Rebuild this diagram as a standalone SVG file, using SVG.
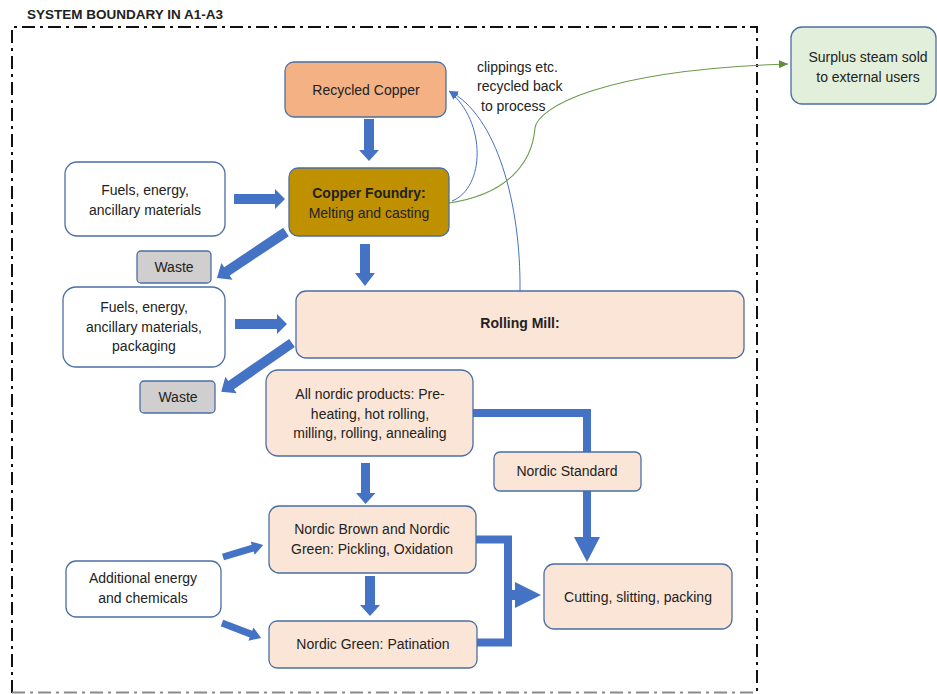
<svg xmlns="http://www.w3.org/2000/svg" width="937" height="694" viewBox="0 0 937 694">
<defs>
<style>
text{font-family:"Liberation Sans",Arial,sans-serif;font-size:14px;fill:#222;text-anchor:middle}
.b{font-weight:bold}
.box{stroke:#4A6FA5;stroke-width:1.3}
.peach{fill:#FBE5D6}
.white{fill:#FFFFFF}
.gray{fill:#D0CECE}
.blk{fill:#4472C4}
.thick{fill:none;stroke:#4472C4;stroke-width:8;stroke-linejoin:miter}
.thin{fill:none;stroke:#4472C4;stroke-width:1}
.bd{fill:none;stroke:#111;stroke-width:2;stroke-dasharray:13 5 3 5}
</style>
<marker id="mb" markerUnits="userSpaceOnUse" markerWidth="10" markerHeight="8" refX="9" refY="4" orient="auto">
<path d="M0,0 L9,4 L0,8 Z" fill="#4472C4"/>
</marker>
<marker id="mg" markerUnits="userSpaceOnUse" markerWidth="10" markerHeight="8" refX="9" refY="4" orient="auto">
<path d="M0,0 L9,4 L0,8 Z" fill="#5E8F3E"/>
</marker>
</defs>
<rect width="937" height="694" fill="#FFFFFF"/>
<text x="27" y="19" class="b" style="font-size:13.5px;text-anchor:start" textLength="196">SYSTEM BOUNDARY IN A1-A3</text>
<g id="boundary">
<path class="bd" d="M12,693 L12,27 L757,27 L757,693"/>
<path class="bd" d="M12,692.5 L757,692.5" style="stroke:#8a8a8a"/>
</g>

<g id="connectors">
<polygon class="blk" points="364,119 374,119 374,150 379,150 369,161 359,150 364,150"/>
<polygon class="blk" points="234,194 275,194 275,189 285,199 275,209 275,204 234,204"/>
<g transform="translate(286,232) rotate(146.3)"><polygon class="blk" points="0,-5 71,-5 71,-10 83,0 71,10 71,5 0,5"/></g>
<polygon class="blk" points="360,244 370,244 370,273 375,273 365,286 355,273 360,273"/>
<polygon class="blk" points="235,319 277,319 277,314 287,324 277,334 277,329 235,329"/>
<g transform="translate(292,343) rotate(145.4)"><polygon class="blk" points="0,-5 74,-5 74,-10 86,0 74,10 74,5 0,5"/></g>
<polygon class="blk" points="361,463 370,463 370,493 375.5,493 365.5,504 356,493 361,493"/>
<polygon class="blk" points="365,576 375,576 375,605 380,605 370,616 360,605 365,605"/>
<g transform="translate(223,557) rotate(-16.7)"><polygon class="blk" points="0,-3.5 31,-3.5 31,-7 42,0 31,7 31,3.5 0,3.5"/></g>
<g transform="translate(222,623) rotate(21)"><polygon class="blk" points="0,-3.5 31,-3.5 31,-7 42,0 31,7 31,3.5 0,3.5"/></g>
<polyline class="thick" points="473,413 587,413 587,538" stroke-width="9"/>
<polygon class="blk" points="574,537 600,537 587,562"/>
<polyline class="thick" points="476,539.5 508,539.5 508,642.5 477,642.5"/>
<polygon class="blk" points="508,590 515,590 515,582 541,595 515,608 515,600 508,600"/>
<path class="thin" d="M452,201 C485,188 487,122 449,91" marker-end="url(#mb)"/>
<path class="thin" d="M520,291 C521,205 497,115 449,91" marker-end="url(#mb)"/>
<path d="M449,203 C505,195 532,165 535,128 C538,108 600,70 788,64" fill="none" stroke="#6A9A4A" stroke-width="1.1" marker-end="url(#mg)"/>
</g>

<g id="recycled-copper">
<rect class="box" x="285" y="62" width="161" height="55" rx="9" fill="#F4B183"/>
<text x="366" y="95">Recycled Copper</text>
</g>
<g id="copper-foundry">
<rect class="box" x="289" y="168" width="160" height="68" rx="9" fill="#BF9000" stroke="#5a5a5a"/>
<text x="369" y="198" class="b">Copper Foundry:</text>
<text x="369" y="218">Melting and casting</text>
</g>
<g id="fuels-1">
<rect class="box white" x="65" y="162" width="160" height="74" rx="12"/>
<text x="145" y="195">Fuels, energy,</text>
<text x="145" y="215">ancillary materials</text>
</g>
<g id="waste-1">
<rect class="box gray" x="137" y="251" width="74" height="32" rx="4"/>
<text x="174" y="272">Waste</text>
</g>
<g id="fuels-2">
<rect class="box white" x="63" y="287" width="162" height="80" rx="13"/>
<text x="144" y="312">Fuels, energy,</text>
<text x="144" y="332">ancillary materials,</text>
<text x="144" y="351">packaging</text>
</g>
<g id="rolling-mill">
<rect class="box peach" x="296" y="291" width="448" height="67" rx="10"/>
<text x="520" y="328" class="b">Rolling Mill:</text>
</g>
<g id="waste-2">
<rect class="box gray" x="140" y="381" width="75" height="32" rx="4"/>
<text x="178" y="402">Waste</text>
</g>
<g id="all-nordic">
<rect class="box peach" x="266" y="370" width="207" height="86" rx="12"/>
<text x="370" y="399">All nordic products: Pre-</text>
<text x="370" y="419">heating, hot rolling,</text>
<text x="370" y="438">milling, rolling, annealing</text>
</g>
<g id="nordic-standard">
<rect class="box peach" x="494" y="452" width="147" height="39" rx="6"/>
<text x="567" y="476">Nordic Standard</text>
</g>
<g id="nordic-brown">
<rect class="box peach" x="269" y="506" width="207" height="67" rx="10"/>
<text x="372" y="534">Nordic Brown and Nordic</text>
<text x="372" y="554">Green: Pickling, Oxidation</text>
</g>
<g id="nordic-green">
<rect class="box peach" x="269" y="621" width="208" height="47" rx="8"/>
<text x="373" y="649">Nordic Green: Patination</text>
</g>
<g id="additional">
<rect class="box white" x="66" y="561" width="155" height="56" rx="10"/>
<text x="143" y="583">Additional energy</text>
<text x="143" y="603">and chemicals</text>
</g>
<g id="cutting">
<rect class="box peach" x="544" y="564" width="188" height="65" rx="10"/>
<text x="638" y="602">Cutting, slitting, packing</text>
</g>
<g id="surplus-steam">
<rect class="box" x="791" y="27" width="145" height="77" rx="11" fill="#E2EFDA"/>
<text x="868" y="62">Surplus steam sold</text>
<text x="868" y="82">to external users</text>
</g>
<g id="clippings-label">
<text x="477" y="72" style="text-anchor:start">clippings etc.</text>
<text x="477" y="91" style="text-anchor:start">recycled back</text>
<text x="481" y="111" style="text-anchor:start">to process</text>
</g>
</svg>
